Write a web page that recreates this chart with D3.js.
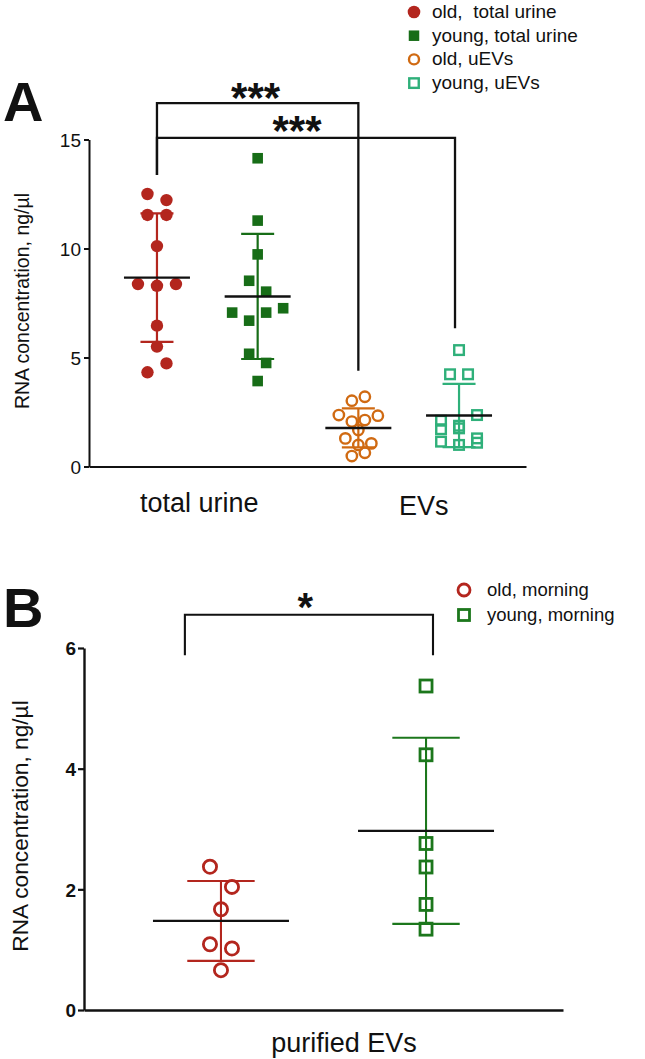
<!DOCTYPE html>
<html><head><meta charset="utf-8">
<script src="https://cdn.jsdelivr.net/npm/d3@7"></script>
<style>
body{margin:0;background:#fff;}
svg{display:block;font-family:"Liberation Sans",Arial,Helvetica,sans-serif;}
</style></head><body>
<svg id="chart" width="645" height="1059"></svg>
<script>
// ---------------- DATA ----------------
const oldTotalUrine   = [12.5, 12.22, 11.54, 11.54, 10.11, 8.37, 8.29, 8.37, 6.46, 5.5, 4.32, 4.73];
const youngTotalUrine = [14.14, 11.28, 9.73, 8.52, 8.02, 7.06, 6.69, 7.06, 7.26, 5.17, 4.75, 3.92];
const oldUEVs         = [3.02, 3.2, 2.36, 2.06, 2.13, 2.33, 1.67, 1.29, 0.99, 1.06, 0.48, 0.63];
const youngUEVs       = [5.34, 4.23, 4.23, 2.1, 1.87, 2.36, 1.71, 1.75, 1.29, 1.14, 0.99, 1.09];
const oldMorning      = [2.375, 2.04, 1.67, 1.09, 1.02, 0.66];
const youngMorning    = [5.37, 4.23, 2.76, 2.37, 1.75, 1.34];

const seriesNamesA = ["old,  total urine", "young, total urine", "old, uEVs", "young, uEVs"];
const seriesNamesB = ["old, morning", "young, morning"];
const categoriesA  = ["total urine", "EVs"];
const categoriesB  = ["purified EVs"];
const yTicksA = [0, 5, 10, 15];
const yTicksB = [0, 2, 4, 6];
const yTitle  = "RNA concentration, ng/\u00b5l";
const starsA  = ["***", "***"];
const starsB  = ["*"];

// ---------------- LAYOUT / STYLE ----------------
const svg = d3.select("#chart");
const ink = "#111";

const yA = d3.scaleLinear().domain([0, 15]).range([466.5, 139.5]);
const xA = d3.scaleLinear().domain([-0.675, 3.665]).range([89, 526]);
const yB = d3.scaleLinear().domain([0, 6]).range([1010, 648]);
const xB = d3.scaleLinear().domain([-0.668, 1.668]).range([84, 563]);

const stylesA = [
  {shape:"circle", fill:true,  color:"#B3261E", size:6.2, sw:0,   bin:13, spacing:19},
  {shape:"square", fill:true,  color:"#176D17", size:10.6, sw:0,  bin:13, spacing:17},
  {shape:"circle", fill:false, color:"#D06A12", size:5.2, sw:2.4, bin:8,  spacing:13},
  {shape:"square", fill:false, color:"#2FB07A", size:9.6, sw:2.4, bin:13, spacing:18}
];
const stylesB = [
  {shape:"circle", fill:false, color:"#B3261E", size:6.6, sw:2.8, bin:22, spacing:22},
  {shape:"square", fill:false, color:"#1C771C", size:12,  sw:2.8, bin:22, spacing:22}
];
const barA = {meanHalf:33, capHalf:16.5, sw:2.2};
const barB = {meanHalf:68, capHalf:33.7, sw:2.1};

// ---------------- HELPERS ----------------
function layoutPoints(values, yS, binPx, spacing) {
  const order = values.map((v, i) => i).sort((a, b) => values[b] - values[a]);
  const offs = new Array(values.length).fill(0);
  let cluster = [], startY = null;
  const flush = () => {
    cluster.sort((a, b) => a - b);
    const n = cluster.length;
    cluster.forEach((k, j) => { offs[k] = (j - (n - 1) / 2) * spacing; });
  };
  order.forEach(i => {
    const py = yS(values[i]);
    if (startY === null || py - startY >= binPx) {
      if (cluster.length) flush();
      cluster = [i]; startY = py;
    } else cluster.push(i);
  });
  if (cluster.length) flush();
  return offs;
}

function marker(sel, st) {
  sel.each(function(d) {
    const g = d3.select(this);
    if (st.shape === "circle") {
      g.append("circle").attr("cx", d.x).attr("cy", d.y).attr("r", st.size)
        .attr("fill", st.fill ? st.color : "none")
        .attr("stroke", st.fill ? "none" : st.color).attr("stroke-width", st.sw);
    } else {
      g.append("rect").attr("x", d.x - st.size / 2).attr("y", d.y - st.size / 2)
        .attr("width", st.size).attr("height", st.size)
        .attr("fill", st.fill ? st.color : "none")
        .attr("stroke", st.fill ? "none" : st.color).attr("stroke-width", st.sw);
    }
  });
}

function drawGroup(g, values, pos, xS, yS, st, bar) {
  const offs = layoutPoints(values, yS, st.bin, st.spacing);
  const cx = xS(pos);
  const pts = values.map((v, i) => ({x: cx + offs[i], y: yS(v)}));
  g.append("g").selectAll("g").data(pts).join("g").call(marker, st);
  const m = d3.mean(values), s = d3.deviation(values);
  const eb = g.append("g").attr("stroke", st.color).attr("stroke-width", bar.sw).attr("fill", "none");
  eb.append("line").attr("x1", cx).attr("x2", cx).attr("y1", yS(m - s)).attr("y2", yS(m + s));
  [m - s, m + s].forEach(v => eb.append("line")
    .attr("x1", cx - bar.capHalf).attr("x2", cx + bar.capHalf).attr("y1", yS(v)).attr("y2", yS(v)));
  g.append("line").attr("stroke", ink).attr("stroke-width", bar.sw + 0.2)
    .attr("x1", cx - bar.meanHalf).attr("x2", cx + bar.meanHalf).attr("y1", yS(m)).attr("y2", yS(m));
}

function bracket(g, xS, yS, b, sw) {
  const x1 = xS(b.from), x2 = xS(b.to);
  g.append("path").attr("fill", "none").attr("stroke", ink).attr("stroke-width", sw)
    .attr("d", `M${x1},${yS(b.leftEnd)}V${yS(b.level)}H${x2}V${yS(b.rightEnd)}`);
  g.append("text").attr("x", x1 + (x2 - x1) * b.labelAt).attr("y", yS(b.level) + b.labelDy)
    .attr("text-anchor", "middle").attr("font-weight", "bold").attr("font-size", b.fs)
    .attr("fill", ink).text(b.label);
}

// ---------------- PANEL A ----------------
const gA = svg.append("g");
gA.append("text").attr("x", 3).attr("y", 121).attr("font-size", 56).attr("font-weight", "bold")
  .attr("fill", ink).text("A");

const axA = gA.append("g").attr("transform", `translate(${xA.range()[0]},0)`)
  .call(d3.axisLeft(yA).tickValues(yTicksA).tickFormat(d3.format("d"))
    .tickSize(5).tickSizeOuter(0).tickPadding(3));
axA.select(".domain").attr("stroke", ink).attr("stroke-width", 2);
axA.selectAll(".tick line").attr("stroke", ink).attr("stroke-width", 2);
axA.selectAll(".tick text").attr("font-size", 19).attr("fill", ink).attr("font-family", null).attr("dy", "0.36em");

const axAx = gA.append("g").attr("transform", `translate(0,${yA(0)})`)
  .call(d3.axisBottom(xA).tickValues([]).tickSizeOuter(0));
axAx.select(".domain").attr("stroke", ink).attr("stroke-width", 2);

gA.append("text").attr("transform", `translate(29,301) rotate(-90)`).attr("text-anchor", "middle")
  .attr("font-size", 19.5).attr("fill", ink).text(yTitle);

const catPosA = [0.42, 2.65], catBaseA = [512, 515];
categoriesA.forEach((c, i) => gA.append("text").attr("x", xA(catPosA[i])).attr("y", catBaseA[i])
  .attr("text-anchor", "middle").attr("font-size", 27).attr("fill", ink).text(c));

[oldTotalUrine, youngTotalUrine, oldUEVs, youngUEVs].forEach((vals, i) =>
  drawGroup(gA.append("g"), vals, i, xA, yA, stylesA[i], barA));

const bracketsA = [
  {from:0, to:2,    level:16.67, leftEnd:13.37, rightEnd:4.39, label:starsA[0], labelAt:0.49, labelDy:9,  fs:42},
  {from:0, to:2.96, level:15.07, leftEnd:13.37, rightEnd:6.34, label:starsA[1], labelAt:0.47, labelDy:7,  fs:42}
];
bracketsA.forEach(b => bracket(gA, xA, yA, b, 2.3));

// legend A
const legA = gA.append("g");
seriesNamesA.forEach((n, i) => {
  const cy = 12 + i * 23.7;
  const st = Object.assign({}, stylesA[i]);
  if (st.shape === "circle") st.size = st.fill ? 6.3 : 5; else st.size = st.fill ? 10.5 : 9.5;
  legA.append("g").datum({x:414, y:cy}).call(marker, st);
  legA.append("text").attr("x", 432).attr("y", cy + 6).attr("font-size", 19).attr("fill", ink)
    .style("white-space", "pre").text(n);
});

// ---------------- PANEL B ----------------
const gB = svg.append("g");
gB.append("text").attr("x", 3).attr("y", 627).attr("font-size", 56).attr("font-weight", "bold")
  .attr("fill", ink).text("B");

const axB = gB.append("g").attr("transform", `translate(${xB.range()[0]},0)`)
  .call(d3.axisLeft(yB).tickValues(yTicksB).tickFormat(d3.format("d"))
    .tickSize(6).tickSizeOuter(0).tickPadding(2));
axB.select(".domain").attr("stroke", ink).attr("stroke-width", 2.4);
axB.selectAll(".tick line").attr("stroke", ink).attr("stroke-width", 2.2);
axB.selectAll(".tick text").attr("font-size", 19).attr("font-weight", "bold").attr("fill", ink)
  .attr("font-family", null).attr("dy", "0.36em");

const axBx = gB.append("g").attr("transform", `translate(0,${yB(0)})`)
  .call(d3.axisBottom(xB).tickValues([]).tickSizeOuter(0));
axBx.select(".domain").attr("stroke", ink).attr("stroke-width", 2.4);

gB.append("text").attr("transform", `translate(28,826) rotate(-90)`).attr("text-anchor", "middle")
  .attr("font-size", 22.7).attr("fill", ink).text(yTitle);

gB.append("text").attr("x", xB(0.6)).attr("y", 1052).attr("text-anchor", "middle")
  .attr("font-size", 27).attr("fill", ink).text(categoriesB[0]);

[oldMorning, youngMorning].forEach((vals, i) =>
  drawGroup(gB.append("g"), vals, i, xB, yB, stylesB[i], barB));

bracket(gB, xB, yB, {from:-0.176, to:1.034, level:6.55, leftEnd:5.88, rightEnd:5.88,
  label:starsB[0], labelAt:0.485, labelDy:6, fs:40}, 2.1);

const legB = gB.append("g");
seriesNamesB.forEach((n, i) => {
  const cy = 590 + i * 25;
  const st = Object.assign({}, stylesB[i]);
  st.size = st.shape === "circle" ? 6 : 11;
  legB.append("g").datum({x:464, y:cy}).call(marker, st);
  legB.append("text").attr("x", 487).attr("y", cy + 6).attr("font-size", 18.5).attr("fill", ink).text(n);
});
</script>
</body></html>
